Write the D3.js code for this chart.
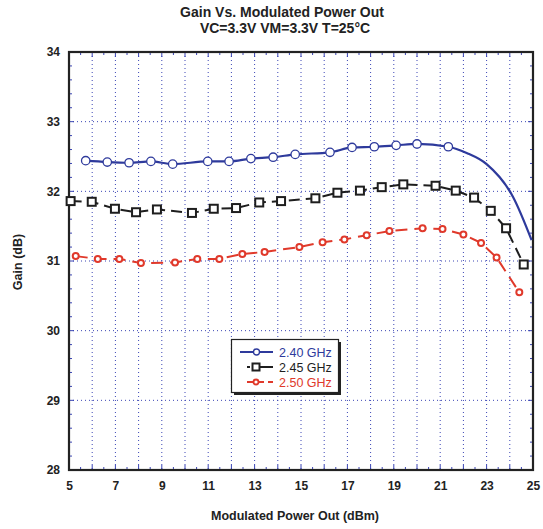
<!DOCTYPE html>
<html><head><meta charset="utf-8">
<script src="https://cdn.jsdelivr.net/npm/d3@7"></script>
<style>body{margin:0;background:#fff;} text{font-family:"Liberation Sans",Arial,sans-serif;}</style>
</head><body><svg id="c" width="543" height="529"></svg>
<script>
const xTicks=[5,7,9,11,13,15,17,19,21,23,25];
const yTicks=[28,29,30,31,32,33,34];
const s240x=[5.72,6.65,7.59,8.53,9.47,10.98,11.9,12.84,13.8,14.75,16.25,17.2,18.16,19.1,20.0,21.35];
const s240y=[32.44,32.42,32.41,32.43,32.39,32.43,32.43,32.47,32.49,32.53,32.56,32.63,32.64,32.66,32.68,32.64];
const s240tailX=[22.14,23.0,24.14,24.94];
const s240tailY=[32.55,32.39,31.92,31.3];
const s245x=[5.07,5.98,6.98,7.89,8.79,10.3,11.24,12.2,13.2,14.14,15.62,16.57,17.54,18.48,19.41,20.8,21.67,22.46,23.18,23.84,24.6];
const s245y=[31.86,31.85,31.75,31.70,31.74,31.69,31.75,31.76,31.84,31.86,31.9,31.98,32.01,32.06,32.1,32.08,32.01,31.91,31.72,31.47,30.95];
const s250x=[5.29,6.24,7.17,8.1,9.57,10.53,11.48,12.47,13.43,14.93,15.93,16.87,17.83,18.81,20.24,21.1,22.0,22.76,23.43,24.41];
const s250y=[31.07,31.03,31.03,30.97,30.98,31.03,31.03,31.1,31.13,31.2,31.27,31.31,31.37,31.43,31.47,31.46,31.38,31.26,31.05,30.55];
const names=["2.40 GHz","2.45 GHz","2.50 GHz"];
const colors=["#2e3a9c","#1e1e1e","#e0392b"];

const svg=d3.select("#c");
const L=69,R=533,T=52,B=470;
const x=d3.scaleLinear().domain([5,25]).range([L,R]);
const y=d3.scaleLinear().domain([28,34]).range([B,T]);

// grid
const g=svg.append("g");
g.selectAll(".vg").data(d3.range(6,25,1)).enter().append("line")
 .attr("x1",d=>x(d)).attr("x2",d=>x(d)).attr("y1",T).attr("y2",B)
 .attr("stroke","#3a45b5").attr("stroke-width",1).attr("stroke-dasharray","1,3");
g.selectAll(".hg").data(d3.range(29,34,1)).enter().append("line")
 .attr("y1",d=>y(d)).attr("y2",d=>y(d)).attr("x1",L).attr("x2",R)
 .attr("stroke","#3a45b5").attr("stroke-width",1).attr("stroke-dasharray","1,3");

// minor ticks
const xm=d3.range(5.5,25,0.5);
["b","t"].forEach(side=>{
 g.selectAll(".xm"+side).data(xm).enter().append("line")
  .attr("x1",d=>x(d)).attr("x2",d=>x(d))
  .attr("y1",side=="b"?B:T).attr("y2",d=>(side=="b"?B:T)+(side=="b"?-1:1)*(Number.isInteger(d)?5:3))
  .attr("stroke","#3a45b5").attr("stroke-width",1);
});
const ym=d3.range(28.2,34,0.2);
["l","r"].forEach(side=>{
 g.selectAll(".ym"+side).data(ym).enter().append("line")
  .attr("y1",d=>y(d)).attr("y2",d=>y(d))
  .attr("x1",side=="l"?L:R).attr("x2",d=>(side=="l"?L:R)+(side=="l"?1:-1)*(Math.abs(d-Math.round(d))<0.01?5:3))
  .attr("stroke","#3a45b5").attr("stroke-width",1);
});

// frame
svg.append("rect").attr("x",L).attr("y",T).attr("width",R-L).attr("height",B-T)
 .attr("fill","none").attr("stroke","#222").attr("stroke-width",2.2);

// axes labels
const xa=d3.axisBottom(x).tickValues(xTicks).tickSize(0).tickPadding(11).tickFormat(d3.format("d"));
const xg=svg.append("g").attr("transform",`translate(0,${B})`).call(xa);
xg.select(".domain").remove();
xg.selectAll("text").attr("font-size",12).attr("font-weight","bold").attr("fill","#222").attr("font-family","Liberation Sans, Arial, sans-serif");
const ya=d3.axisLeft(y).tickValues(yTicks).tickSize(0).tickPadding(9).tickFormat(d3.format("d"));
const yg=svg.append("g").attr("transform",`translate(${L},0)`).call(ya);
yg.select(".domain").remove();
yg.selectAll("text").attr("font-size",12).attr("font-weight","bold").attr("fill","#222").attr("font-family","Liberation Sans, Arial, sans-serif");

svg.append("text").attr("x",282).attr("y",17).attr("text-anchor","middle").attr("font-size",14).attr("font-weight","bold").attr("fill","#222").text("Gain Vs. Modulated Power Out");
svg.append("text").attr("x",285).attr("y",33).attr("text-anchor","middle").attr("font-size",14).attr("font-weight","bold").attr("fill","#222").text("VC=3.3V VM=3.3V T=25°C");
svg.append("text").attr("x",295).attr("y",520).attr("text-anchor","middle").attr("font-size",12.5).attr("font-weight","bold").attr("fill","#222").text("Modulated Power Out (dBm)");
svg.append("text").attr("transform","translate(22,262) rotate(-90)").attr("text-anchor","middle").attr("font-size",12.5).attr("font-weight","bold").attr("fill","#222").text("Gain (dB)");

const line=d3.line().x(d=>x(d[0])).y(d=>y(d[1])).curve(d3.curveMonotoneX);
const d240=s240x.map((v,i)=>[v,s240y[i]]);
const d240full=d240.concat(s240tailX.map((v,i)=>[v,s240tailY[i]]));
const d245=s245x.map((v,i)=>[v,s245y[i]]);
const d250=s250x.map((v,i)=>[v,s250y[i]]);

svg.append("path").attr("d",line(d240full)).attr("fill","none").attr("stroke",colors[0]).attr("stroke-width",2.2);
svg.append("path").attr("d",d3.line().x(d=>x(d[0])).y(d=>y(d[1]))(d245)).attr("fill","none").attr("stroke",colors[1]).attr("stroke-width",2).attr("stroke-dasharray","11,6");
svg.append("path").attr("d",d3.line().x(d=>x(d[0])).y(d=>y(d[1]))(d250)).attr("fill","none").attr("stroke",colors[2]).attr("stroke-width",2).attr("stroke-dasharray","12,7");

svg.selectAll(".m0").data(d240).enter().append("circle").attr("cx",d=>x(d[0])).attr("cy",d=>y(d[1])).attr("r",4.2)
 .attr("fill","#fff").attr("stroke",colors[0]).attr("stroke-width",1.3);
svg.selectAll(".m1").data(d245).enter().append("rect").attr("x",d=>x(d[0])-4).attr("y",d=>y(d[1])-4).attr("width",8).attr("height",8)
 .attr("fill","#fff").attr("stroke",colors[1]).attr("stroke-width",2);
svg.selectAll(".m2").data(d250).enter().append("circle").attr("cx",d=>x(d[0])).attr("cy",d=>y(d[1])).attr("r",3)
 .attr("fill","#fff").attr("stroke",colors[2]).attr("stroke-width",2);

// legend
const lg=svg.append("g");
lg.append("rect").attr("x",234).attr("y",342).attr("width",107).attr("height",53).attr("fill","#222");
lg.append("rect").attr("x",231.5).attr("y",339.5).attr("width",107).attr("height",53).attr("fill","#fff").attr("stroke","#222").attr("stroke-width",1.2);
const rows=[352,367,382];
lg.append("line").attr("x1",240).attr("x2",273).attr("y1",rows[0]).attr("y2",rows[0]).attr("stroke",colors[0]).attr("stroke-width",2);
lg.append("circle").attr("cx",256.5).attr("cy",rows[0]).attr("r",3).attr("fill","#fff").attr("stroke",colors[0]).attr("stroke-width",1.3);
lg.append("line").attr("x1",247).attr("x2",273).attr("y1",rows[1]).attr("y2",rows[1]).attr("stroke",colors[1]).attr("stroke-width",2).attr("stroke-dasharray","3,2,30");
lg.append("rect").attr("x",252.5).attr("y",rows[1]-3.5).attr("width",7).attr("height",7).attr("fill","#fff").attr("stroke",colors[1]).attr("stroke-width",2);
lg.append("line").attr("x1",247).attr("x2",273).attr("y1",rows[2]).attr("y2",rows[2]).attr("stroke",colors[2]).attr("stroke-width",2).attr("stroke-dasharray","17,4");
lg.append("circle").attr("cx",256).attr("cy",rows[2]).attr("r",2.5).attr("fill","#fff").attr("stroke",colors[2]).attr("stroke-width",1.8);
names.forEach((n,i)=>{
 lg.append("text").attr("x",279).attr("y",rows[i]+4.5).attr("font-size",12.5).attr("fill",colors[i]).text(n);
});
</script></body></html>
